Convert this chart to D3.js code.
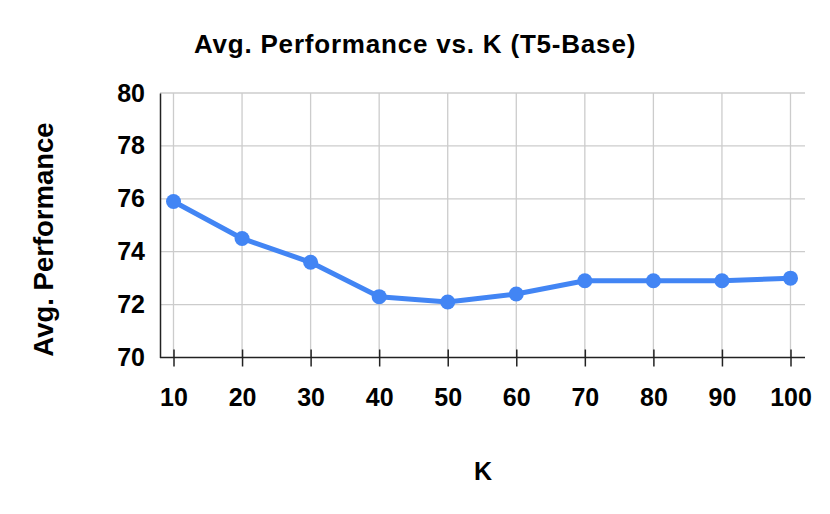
<!DOCTYPE html>
<html>
<head>
<meta charset="utf-8">
<script src="https://cdn.jsdelivr.net/npm/d3@7"></script>
<style>
  body { margin: 0; background: #fff; }
  svg { display: block; }
</style>
</head>
<body>
<div id="vis"></div>
<script>
const kValues = [10, 20, 30, 40, 50, 60, 70, 80, 90, 100];
const avgPerformance = [75.9, 74.5, 73.6, 72.3, 72.1, 72.4, 72.9, 72.9, 72.9, 73.0];
const yTicks = [70, 72, 74, 76, 78, 80];

const font = 'Arial, "Liberation Sans", Helvetica, sans-serif';

var svg = d3.select("#vis").append("svg")
    .attr("width", 830)
    .attr("height", 514);

// plot box
const plotLeft = 160, plotRight = 805, plotTop = 93, plotBottom = 357.5;

var x = d3.scaleLinear().domain([10, 100]).range([173.5, 790.5]);
var y = d3.scaleLinear().domain([70, 80]).range([plotBottom, plotTop]);

// gridlines
svg.append("g").selectAll("line").data(yTicks.slice(1)).join("line")
    .attr("x1", plotLeft).attr("x2", plotRight)
    .attr("y1", d => y(d)).attr("y2", d => y(d))
    .attr("stroke", "#cccccc").attr("stroke-width", 1.3);
svg.append("g").selectAll("line").data(kValues).join("line")
    .attr("x1", d => x(d)).attr("x2", d => x(d))
    .attr("y1", plotTop).attr("y2", plotBottom)
    .attr("stroke", "#cccccc").attr("stroke-width", 1.3);

// x axis with ticks crossing the baseline
var xAxis = svg.append("g")
    .attr("transform", "translate(0," + plotBottom + ")")
    .call(d3.axisBottom(x).tickValues(kValues).tickSize(9).tickSizeOuter(0).tickPadding(22));
xAxis.select(".domain").attr("d", "M" + plotLeft + ",0H" + plotRight).attr("stroke", "#222").attr("stroke-width", 1.5);
xAxis.selectAll(".tick line").attr("y1", -8).attr("stroke", "#222").attr("stroke-width", 1.5);
xAxis.selectAll(".tick text")
    .style("font-family", font).style("font-size", "25px").style("font-weight", "bold")
    .attr("fill", "#000").attr("dy", "0.71em");

// y axis
var yAxis = svg.append("g")
    .attr("transform", "translate(" + plotLeft + ",0)")
    .call(d3.axisLeft(y).tickValues(yTicks).tickSize(0).tickPadding(15));
yAxis.select(".domain").attr("stroke", "#222").attr("stroke-width", 1.5);
yAxis.selectAll(".tick text")
    .style("font-family", font).style("font-size", "25px").style("font-weight", "bold")
    .attr("fill", "#000");

// series
const pts = kValues.map((k, i) => [k, avgPerformance[i]]);
svg.append("path")
    .datum(pts)
    .attr("d", d3.line().x(d => x(d[0])).y(d => y(d[1])))
    .attr("fill", "none")
    .attr("stroke", "#4285f4")
    .attr("stroke-width", 5)
    .attr("stroke-linejoin", "round");
svg.append("g").selectAll("circle").data(pts).join("circle")
    .attr("cx", d => x(d[0])).attr("cy", d => y(d[1]))
    .attr("r", 7.5)
    .attr("fill", "#4285f4");

// titles
svg.append("text")
    .attr("x", 415).attr("y", 53)
    .attr("text-anchor", "middle")
    .style("font-family", font).style("font-size", "26px").style("font-weight", "bold")
    .style("letter-spacing", "0.8px")
    .text("Avg. Performance vs. K (T5-Base)");

svg.append("text")
    .attr("x", 483).attr("y", 480)
    .attr("text-anchor", "middle")
    .style("font-family", font).style("font-size", "25px").style("font-weight", "bold")
    .text("K");

svg.append("text")
    .attr("transform", "translate(53,239.5) rotate(-90)")
    .attr("text-anchor", "middle")
    .style("font-family", font).style("font-size", "27.5px").style("font-weight", "bold")
    .text("Avg. Performance");
</script>
</body>
</html>
